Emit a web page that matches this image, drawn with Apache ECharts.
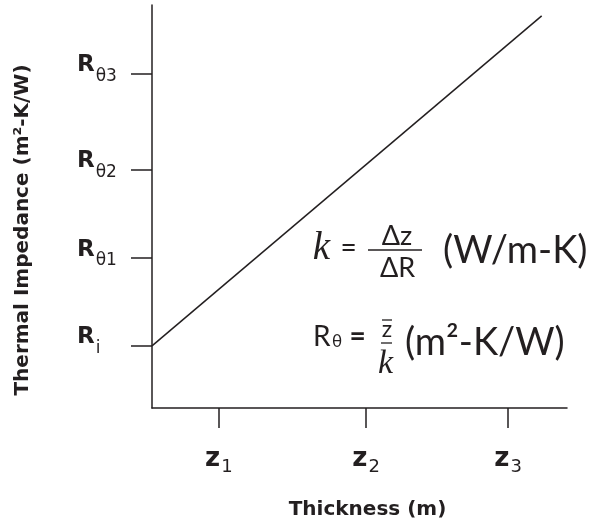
<!DOCTYPE html>
<html><head><meta charset="utf-8">
<script src="https://cdn.jsdelivr.net/npm/echarts@6/dist/echarts.min.js"></script>
<style>html,body{margin:0;padding:0;background:#fff}#c{width:599px;height:525px}</style>
</head><body><div id="c"></div>
<script>
// Data (abstract units, axis range 0..100)
const xTickValues = [16.1, 51.6, 85.8];
const xTickSubs = ['1', '2', '3'];
const yTickValues = [15.4, 37.2, 59.1, 82.9];
const yTickSubs = ['i', 'θ1', 'θ2', 'θ3'];
const lineX = [0, 93.9];
const lineY = [15.4, 97.3];
const xTitle = 'Thickness (m)';
const yTitle = 'Thermal Impedance (m²-K/W)';

const INK = '#231f20';
const chart = echarts.init(document.getElementById('c'), null, {renderer: 'canvas'});

function txt(text, x, y, font, align) {
  return {type: 'text', silent: true, style: {text: text, x: x, y: y, font: font, fill: INK,
    align: align || 'center', verticalAlign: 'middle'}};
}
function bar(x1, x2, y) {
  return {type: 'line', silent: true, shape: {x1: x1, y1: y, x2: x2, y2: y},
    style: {stroke: INK, lineWidth: 1.3}};
}

chart.setOption({
  animation: false,
  grid: {left: 152, right: 32, top: 5, bottom: 117, containLabel: false, outerBoundsMode: 'none'},
  xAxis: {
    type: 'value', min: 0, max: 100,
    name: xTitle, nameLocation: 'middle', nameGap: 92,
    nameTextStyle: {fontFamily: 'DejaVu Sans', fontWeight: 'bold', fontSize: 20, color: INK, padding: [0, 0, 0, 16]},
    axisLine: {show: true, lineStyle: {color: INK, width: 1.5}},
    axisTick: {show: true, length: 20, customValues: xTickValues, lineStyle: {color: INK, width: 1.5}},
    axisLabel: {
      customValues: xTickValues, margin: 38,
      formatter: function (v) {
        const i = xTickValues.indexOf(v);
        return '{z|z}{s|' + (i >= 0 ? xTickSubs[i] : '') + '}';
      },
      rich: {
        z: {fontFamily: 'DejaVu Sans', fontWeight: 'bold', fontSize: 26, color: INK, padding: [0, 0, 4, 0], verticalAlign: 'bottom'},
        s: {fontFamily: 'DejaVu Sans', fontSize: 18, color: INK, padding: [0, 0, 0, 1], verticalAlign: 'bottom'}
      }
    },
    splitLine: {show: false}
  },
  yAxis: {
    type: 'value', min: 0, max: 100,
    name: yTitle, nameLocation: 'middle', nameGap: 119, nameRotate: 90,
    nameTextStyle: {fontFamily: 'DejaVu Sans', fontWeight: 'bold', fontSize: 20, color: INK, padding: [0, 47, 0, 0]},
    axisLine: {show: true, lineStyle: {color: INK, width: 1.5}},
    axisTick: {show: true, length: 21, customValues: yTickValues, lineStyle: {color: INK, width: 1.5}},
    axisLabel: {
      customValues: yTickValues, margin: 75, align: 'left',
      formatter: function (v) {
        const i = yTickValues.indexOf(v);
        return '{r|R}{s|' + (i >= 0 ? yTickSubs[i] : '') + '}';
      },
      rich: {
        r: {fontFamily: 'DejaVu Sans', fontWeight: 'bold', fontSize: 23, color: INK, padding: [0, 0, 17, 0], verticalAlign: 'bottom'},
        s: {fontFamily: 'DejaVu Sans', fontSize: 17, color: INK, padding: [0, 0, 9, 1], verticalAlign: 'bottom'}
      }
    },
    splitLine: {show: false}
  },
  series: [{
    type: 'line', silent: true, showSymbol: false,
    data: lineX.map(function (x, i) { return [x, lineY[i]]; }),
    lineStyle: {color: INK, width: 1.5}
  }],
  graphic: [
    txt('k', 321.5, 248.5, 'italic 39px "Liberation Serif"'),
    txt('=', 348.5, 248, '28px Lato'),
    txt('Δz', 397, 236, '27px Lato'),
    bar(368, 422, 250),
    txt('ΔR', 397.5, 268, '27px Lato'),
    txt('(W/m-K)', 443, 251, '38px Lato', 'left'),
    txt('R', 313, 337, '28px Lato', 'left'),
    txt('θ', 332, 342, '17px Lato', 'left'),
    txt('=', 357.5, 337, 'bold 28px Lato'),
    bar(382, 392, 320),
    txt('z', 387, 330, '23px Lato'),
    bar(381, 392, 343),
    txt('k', 385.5, 364.5, 'italic 34px "Liberation Serif"'),
    txt('(m²-K/W)', 405, 343, '38px Lato', 'left')
  ]
});
</script>
</body></html>
